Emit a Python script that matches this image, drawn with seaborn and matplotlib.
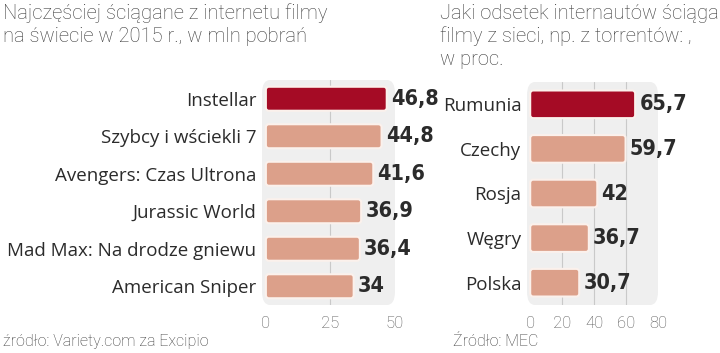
import pandas as pd
import matplotlib.pyplot as plt
import seaborn as sns
from matplotlib.patches import FancyBboxPatch

films = ["Instellar", "Szybcy i wściekli 7", "Avengers: Czas Ultrona",
         "Jurassic World", "Mad Max: Na drodze gniewu", "American Sniper"]
downloads = [46.8, 44.8, 41.6, 36.9, 36.4, 34]
countries = ["Rumunia", "Czechy", "Rosja", "Węgry", "Polska"]
share = [65.7, 59.7, 42, 36.7, 30.7]

DARK_RED = "#a50b25"
SALMON = "#dca08a"
PANEL = "#efefef"
TEXT = "#2b2b2b"
GREY = "#3a3a3a"

sns.set_theme(style="white")
plt.rcParams["font.family"] = ["Roboto", "DejaVu Sans"]

fig = plt.figure(figsize=(7.2, 3.53), dpi=100)
fig.patch.set_facecolor("white")


def fmt(v):
    return (f"{v:g}").replace(".", ",")


def draw(ax, cats, vals, xlim, ticks, grid, width):
    df = pd.DataFrame({"cat": cats, "val": vals})
    colors = [DARK_RED] + [SALMON] * (len(cats) - 1)
    sns.barplot(data=df, y="cat", x="val", hue="cat", palette=colors,
                saturation=1, legend=False, orient="h", width=width, ax=ax,
                zorder=3)
    ax.set_xlim(*xlim)
    ax.set_ylim(len(cats) - 0.5, -0.5)
    ax.patch.set_visible(False)
    ax.add_patch(FancyBboxPatch((0, 0), 1, 1, transform=ax.transAxes,
                                boxstyle="round,pad=0,rounding_size=0.06",
                                facecolor=PANEL, edgecolor="none", zorder=0))
    for g in grid:
        ax.axvline(g, color="#c9c9c9", lw=0.8, zorder=1)
    for c in ax.containers:
        ax.bar_label(c, labels=[fmt(v) for v in c.datavalues], padding=3,
                     fontsize=15.5, fontweight="bold", color=TEXT,
                     family="DejaVu Sans", fontstretch="condensed")
    # rounded bars
    bbox = ax.get_window_extent()
    px_x = bbox.width / (xlim[1] - xlim[0])
    px_y = bbox.height / len(cats)
    for p in list(ax.patches):
        if isinstance(p, FancyBboxPatch):
            continue
        x, y, w, h = p.get_x(), p.get_y(), p.get_width(), p.get_height()
        fb = FancyBboxPatch((x, y), w, h,
                            boxstyle=f"round,pad=0,rounding_size={3 / px_x}",
                            mutation_aspect=px_x / px_y,
                            facecolor=p.get_facecolor(), edgecolor="#fbf1ec",
                            lw=1.5, zorder=3)
        p.set_visible(False)
        ax.add_patch(fb)
    ax.set_xticks(ticks)
    ax.set_xticklabels([str(t) for t in ticks])
    ax.tick_params(axis="x", length=0, pad=8, labelsize=12, labelcolor="#555555")
    ax.tick_params(axis="y", length=0, pad=4, labelsize=13.5, labelcolor=TEXT)
    for lab in ax.get_xticklabels():
        lab.set_fontweight("light")
    for lab in ax.get_yticklabels():
        lab.set_family(["Open Sans", "DejaVu Sans"])
    ax.set_xlabel("")
    ax.set_ylabel("")
    for s in ax.spines.values():
        s.set_visible(False)


ax1 = fig.add_axes([262 / 720, 48 / 353, 133 / 720, 225 / 353])
draw(ax1, films, downloads, (-1.5, 50), [0, 25, 50], [25], 0.64)

ax2 = fig.add_axes([527 / 720, 48 / 353, 131 / 720, 223 / 353])
draw(ax2, countries, share, (-2, 80), [0, 20, 40, 60, 80], [20, 40, 60], 0.62)

fig.text(0.004, 0.99, "Najczęściej ściągane z internetu filmy\nna świecie w 2015 r., w mln pobrań",
         ha="left", va="top", fontsize=14.5, fontweight="light", color=GREY,
         linespacing=1.25)
fig.text(440 / 720, 0.99, "Jaki odsetek internautów ściąga\nfilmy z sieci, np. z torrentów: ,\nw proc.",
         ha="left", va="top", fontsize=14.5, fontweight="light", color=GREY,
         linespacing=1.25)
fig.text(0.004, 0.012, "źródło: Variety.com za Excipio", ha="left", va="bottom",
         fontsize=11.5, fontweight="light", color=GREY)
fig.text(453 / 720, 0.012, "Źródło: MEC", ha="left", va="bottom",
         fontsize=11.5, fontweight="light", color=GREY)

fig.savefig("out.png", dpi=100)
